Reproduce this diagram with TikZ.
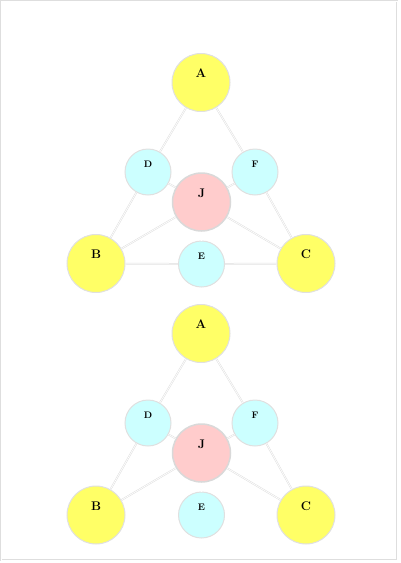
\documentclass[tikz,border=0pt]{standalone}
\definecolor{nyellow}{HTML}{FFFF66}
\definecolor{ncyan}{HTML}{CCFFFF}
\definecolor{npink}{HTML}{FFCCCC}
\begin{document}
\begin{tikzpicture}[x=1pt,y=-1pt,
  edge/.style={draw=black!13, line width=0.5pt, double=white, double distance=0.7pt},
  bignode/.style={circle, minimum size=58pt, inner sep=0pt, draw=black!12, line width=1pt, fill=nyellow},
  smallnode/.style={circle, minimum size=46pt, inner sep=0pt, draw=black!12, line width=1pt, fill=ncyan},
  jnode/.style={circle, minimum size=58pt, inner sep=0pt, draw=black!15, line width=1.5pt, fill=npink},
  lab/.style={inner sep=0pt, font=\bfseries\fontsize{12.5}{12.5}\selectfont},
  slab/.style={inner sep=0pt, font=\bfseries\fontsize{9.5}{9.5}\selectfont}]
\useasboundingbox (0,0) rectangle (400,563);
\draw[draw=black!13, line width=0.6pt, double=white, double distance=0.9pt] (1,1) rectangle (397,560);
% ---- top diagram
\node[bignode] (A) at (201,82.5) {};
\node[smallnode] (D) at (148,172) {};
\node[smallnode] (F) at (255,172) {};
\node[jnode] (J) at (201.5,202) {};
\node[bignode] (B) at (96,263.5) {};
\node[smallnode] (E) at (201.5,264) {};
\node[bignode] (C) at (306,263.5) {};
\coordinate (Jt) at (201.5,134);
% ---- bottom diagram
\node[bignode] (A2) at (201,333.5) {};
\node[smallnode] (D2) at (148,423) {};
\node[smallnode] (F2) at (255,423) {};
\node[jnode] (J2) at (201.5,453) {};
\node[bignode] (B2) at (96,515) {};
\node[smallnode] (E2) at (201.5,515) {};
\node[bignode] (C2) at (306,515) {};
\coordinate (Jt2) at (201.5,385);
% edges top
\draw[edge] (A) -- (D);
\draw[edge] (A) -- (F);
\draw[edge] (D) -- (B);
\draw[edge] (F) -- (C);
\draw[edge] (B) -- (E);
\draw[edge] (E) -- (C);
\draw[edge] (J) -- (B);
\draw[edge] (J) -- (C);
\draw[edge] (J) -- (D);
\draw[edge] (J) -- (F);
\draw[edge] (J) -- (E);
\draw[edge] (J) -- (Jt);
% edges bottom
\draw[edge] (A2) -- (D2);
\draw[edge] (A2) -- (F2);
\draw[edge] (D2) -- (B2);
\draw[edge] (F2) -- (C2);
\draw[edge] (J2) -- (B2);
\draw[edge] (J2) -- (C2);
\draw[edge] (J2) -- (D2);
\draw[edge] (J2) -- (F2);
\draw[edge] (J2) -- (E2);
\draw[edge] (J2) -- (Jt2);
% labels
\node[lab] at ([yshift=9]A.center) {A};
\node[lab] at ([yshift=9]B.center) {B};
\node[lab] at ([yshift=9]C.center) {C};
\node[lab] at ([yshift=9]J.center) {J};
\node[slab] at ([yshift=8]D.center) {D};
\node[slab] at ([yshift=8]E.center) {E};
\node[slab] at ([yshift=8]F.center) {F};
\node[lab] at ([yshift=9]A2.center) {A};
\node[lab] at ([yshift=9]B2.center) {B};
\node[lab] at ([yshift=9]C2.center) {C};
\node[lab] at ([yshift=9]J2.center) {J};
\node[slab] at ([yshift=8]D2.center) {D};
\node[slab] at ([yshift=8]E2.center) {E};
\node[slab] at ([yshift=8]F2.center) {F};
\end{tikzpicture}
\end{document}
